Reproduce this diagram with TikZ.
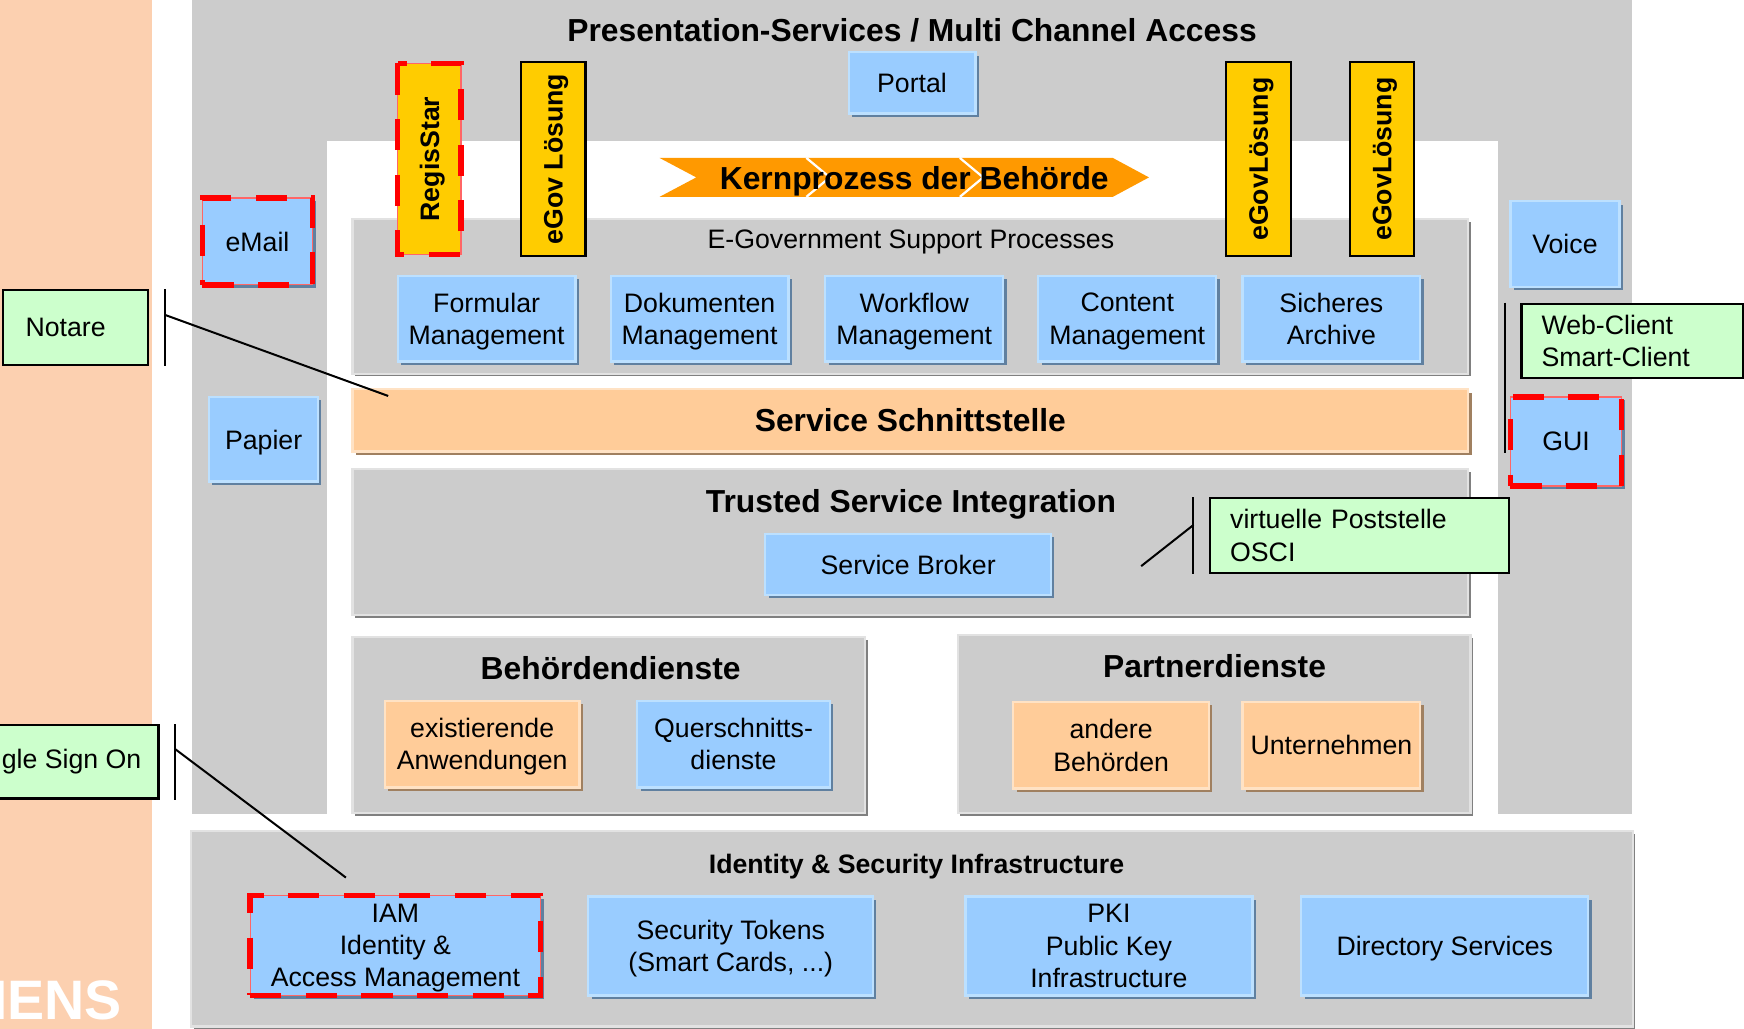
\documentclass[tikz,border=0pt]{standalone}
\usepackage{fontspec}
\setmainfont{Liberation Sans}
\usetikzlibrary{shadows}
\definecolor{salmon}{RGB}{252,208,176}
\definecolor{panelgray}{RGB}{204,204,204}
\definecolor{panellight}{RGB}{226,226,226}
\definecolor{panelshade}{RGB}{128,128,128}
\definecolor{bluefill}{RGB}{153,204,255}
\definecolor{bluelight}{RGB}{188,224,255}
\definecolor{blueshade}{RGB}{96,128,160}
\definecolor{peachfill}{RGB}{255,204,153}
\definecolor{peachlight}{RGB}{255,226,196}
\definecolor{peachshade}{RGB}{160,128,96}
\definecolor{greenfill}{RGB}{204,255,204}
\definecolor{yellowfill}{RGB}{255,204,0}
\definecolor{orangefill}{RGB}{255,153,0}
\begin{document}
\begin{tikzpicture}[x=0.5pt,y=-0.5pt,
    every node/.style={inner sep=0pt,font=\fontsize{12}{14.5}\selectfont},
    flat/.style={text depth=0pt},
    panel/.style={rectangle,fill=panelgray,draw=panellight,line width=1pt,
      drop shadow={shadow xshift=1.2pt,shadow yshift=-1.2pt,fill=panelshade,opacity=1}},
    bluebox/.style={flat,rectangle,fill=bluefill,draw=bluelight,line width=1pt,align=center,
      drop shadow={shadow xshift=1.5pt,shadow yshift=-1.5pt,fill=blueshade,opacity=1}},
    peachbox/.style={flat,rectangle,fill=peachfill,draw=peachlight,line width=1pt,align=center,
      drop shadow={shadow xshift=1.5pt,shadow yshift=-1.5pt,fill=peachshade,opacity=1}},
    gelb/.style={flat,rectangle,fill=yellowfill,draw=black,line width=1pt,rotate=90,
      minimum width=87pt,minimum height=29pt,font=\bfseries\fontsize{12}{14}\selectfont},
    callout/.style={rectangle,fill=greenfill,draw=black,line width=1pt,align=left,
      minimum height=33.5pt,inner xsep=9pt},
    reddash/.style={draw=red!60,line width=0.6pt,
      postaction={draw=red,line width=2.5pt,dash pattern=on 14pt off 11pt}},
    ptitle/.style={flat,font=\bfseries\fontsize{14.3}{17}\selectfont},
    link/.style={line width=0.9pt}]
    \useasboundingbox (0,0) rectangle (1568,925);
    \clip (0,0) rectangle (1568,925);
    % background bands
    \fill[white] (0,0) rectangle (1568,925);
    \fill[salmon] (0,0) rectangle (137,925);
    \fill[panelgray] (173,0) rectangle (1467,732);
    \fill[white] (294,127) rectangle (1347,746);
    \node[anchor=east,text=white,font=\bfseries\fontsize{25}{25}\selectfont] (siemens) at (110,899) {SIEMENS};

    \node[ptitle] (prestitle) at (820,27) {Presentation-Services / Multi Channel Access};
    \node[bluebox,minimum width=57pt,minimum height=27.5pt] (portal) at (820,74.5) {Portal};

    % panels
    \node[panel,minimum width=501.5pt,minimum height=69.5pt] (egov) at (818.5,266.5) {};
    \node[flat] (egovtitle) at (819,215) {E-Government Support Processes};
    \node[peachbox,minimum width=501.5pt,minimum height=28pt,ptitle] (schnitt) at (818.5,378) {Service Schnittstelle};
    \node[panel,minimum width=501.5pt,minimum height=65.5pt] (trusted) at (818.5,487.5) {};
    \node[ptitle] (trustedtitle) at (819,450) {Trusted Service Integration};
    \node[panel,minimum width=230.5pt,minimum height=79pt] (behoerden) at (547.5,652) {};
    \node[ptitle] (behoerdentitle) at (549,601) {Behördendienste};
    \node[panel,minimum width=230.5pt,minimum height=80pt] (partner) at (1091.5,651) {};
    \node[ptitle] (partnertitle) at (1092,599) {Partnerdienste};
    \node[panel,minimum width=648pt,minimum height=88pt] (identity) at (820,835) {};
    \node[flat,font=\bfseries\fontsize{12}{14}\selectfont] (identitytitle) at (824,777) {Identity \& Security Infrastructure};

    % support processes
    \node[bluebox,minimum width=80pt,minimum height=38.5pt] (formular) at (437.5,286.5) {Formular\\Management};
    \node[bluebox,minimum width=80pt,minimum height=38.5pt] (dokumente) at (629,286.5) {Dokumenten\\Management};
    \node[bluebox,minimum width=80pt,minimum height=38.5pt] (workflow) at (822,286.5) {Workflow\\Management};
    \node[bluebox,minimum width=80pt,minimum height=38.5pt] (content) at (1013.5,286.5) {Content\\Management};
    \node[bluebox,minimum width=80pt,minimum height=38.5pt] (archiv) at (1197,286.5) {Sicheres\\Archive};

    % solutions
    \node[gelb,reddash,minimum width=86pt,minimum height=28.5pt] (regisstar) at (386,143) {RegisStar};
    \node[gelb] (egova) at (497.5,143) {eGov Lösung};
    \node[gelb] (egovb) at (1131.5,143) {eGovLösung};
    \node[gelb] (egovc) at (1242.5,143) {eGovLösung};

    % core process
    \fill[orangefill] (593,142) -- (1000.5,142) -- (1033,159.5) -- (1000.5,177) -- (593,177) -- (626,159.5) -- cycle;
    \draw[white,line width=1pt] (725,142) -- (746,159.5) -- (725,177);
    \draw[white,line width=1pt] (863,142) -- (884,159.5) -- (863,177);
    \node[ptitle] (kern) at (822,160) {Kernprozess der Behörde};

    % channels
    \node[bluebox,reddash,minimum width=49.5pt,minimum height=39pt] (email) at (231.5,217) {eMail};
    \node[bluebox,minimum width=49pt,minimum height=38pt] (papier) at (237,395) {Papier};
    \node[bluebox,minimum width=49pt,minimum height=38.5pt] (voice) at (1407,219.5) {Voice};
    \node[bluebox,reddash,minimum width=50pt,minimum height=40pt] (gui) at (1408,397) {GUI};

    \node[bluebox,minimum width=128.5pt,minimum height=27.5pt] (broker) at (816.5,507.5) {Service Broker};

    \node[peachbox,minimum width=87.5pt,minimum height=39pt] (existierend) at (433.5,669) {existierende\\Anwendungen};
    \node[bluebox,minimum width=86.5pt,minimum height=39pt] (quer) at (659.5,669) {Querschnitts-\\dienste};
    \node[peachbox,minimum width=88pt,minimum height=39pt] (andere) at (999,670) {andere\\Behörden};
    \node[peachbox,minimum width=80pt,minimum height=39pt] (unternehmen) at (1197,670) {Unternehmen};

    \node[bluebox,reddash,minimum width=130.5pt,minimum height=45pt] (iam) at (355.5,850) {IAM\\Identity \&\\Access Management};
    \node[bluebox,minimum width=128pt,minimum height=44.5pt] (tokens) at (657,850.5) {Security Tokens\\(Smart Cards, ...)};
    \node[bluebox,minimum width=129pt,minimum height=44.5pt] (pki) at (997,850.5) {PKI\\Public Key\\Infrastructure};
    \node[bluebox,minimum width=129pt,minimum height=44.5pt] (directory) at (1299,850.5) {Directory Services};

    % callouts
    \node[callout,text width=116.5pt] (osci) at (1222.5,481.5) {virtuelle Poststelle\\OSCI};
    \node[callout,text width=45pt,inner xsep=10pt] (notare) at (68,294.5) {Notare};
    \node[callout,text width=81.5pt] (webclient) at (1467.5,306.5) {Web-Client\\Smart-Client};
    \node[callout,inner xsep=5pt,minimum width=95.5pt,minimum height=33pt] (sso) at (47,685) {Single Sign On};

    \coordinate (notareend) at (349,356);
    \coordinate (ssoend) at (311,789);
    \coordinate (osciend) at (1026,509);
    \draw[link] ([xshift=7pt]notare.north east) -- ([xshift=7pt]notare.south east);
    \draw[link] ([xshift=7pt,yshift=5.75pt]notare.east) -- (notareend);
    \draw[link] ([xshift=7pt]sso.north east) -- ([xshift=7pt]sso.south east);
    \draw[link] ([xshift=7pt,yshift=5.75pt]sso.east) -- (ssoend);
    \draw[link] ([xshift=-7pt]osci.north west) -- ([xshift=-7pt]osci.south west);
    \draw[link] ([xshift=-7pt,yshift=4.75pt]osci.west) -- (osciend);
    \draw[link] ([xshift=-7pt]webclient.north west) -- ++(0,135);
\end{tikzpicture}
\end{document}
